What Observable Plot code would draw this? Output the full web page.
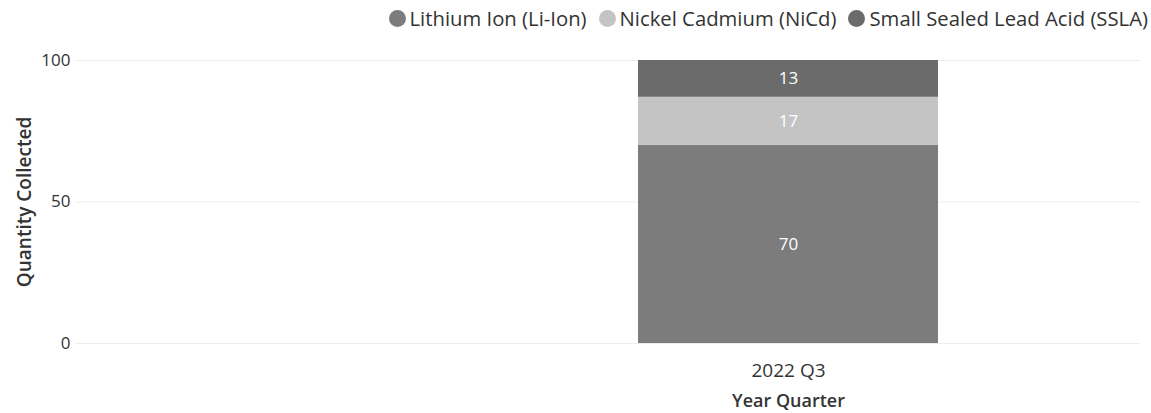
<!DOCTYPE html>
<html>
<head>
<meta charset="utf-8">
<script src="https://cdn.jsdelivr.net/npm/d3@7"></script>
<script src="https://cdn.jsdelivr.net/npm/@observablehq/plot@0.6"></script>
<style>
  html, body { margin: 0; padding: 0; background: #fff; }
  body { width: 1151px; height: 413px; overflow: hidden; font-family: "Open Sans", sans-serif; }
  #legend { height: 36px; display: flex; justify-content: flex-end; align-items: center; padding-right: 3px; box-sizing: border-box; font-size: 20.3px; color: #333; }
  .item { display: flex; align-items: center; margin-left: 12px; }
  .sw { width: 17px; height: 17px; border-radius: 50%; margin-right: 4px; }
</style>
</head>
<body>
<div id="legend"></div>
<div id="chart"></div>
<script>
const categories = ["2022 Q3"];
const series = ["Lithium Ion (Li-Ion)", "Nickel Cadmium (NiCd)", "Small Sealed Lead Acid (SSLA)"];
const values = [70, 17, 13];
const yTicks = [0, 50, 100];
const yTitle = "Quantity Collected";
const xTitle = "Year Quarter";
const palette = ["#7c7c7c", "#c4c4c4", "#6b6b6b"];

const data = series.map((s, i) => ({quarter: categories[0], series: s, value: values[i]}));

const legend = document.getElementById("legend");
series.forEach((s, i) => {
  const it = document.createElement("div");
  it.className = "item";
  it.innerHTML = `<span class="sw" style="background:${palette[i]}"></span><span>${s}</span>`;
  legend.appendChild(it);
});

const chart = Plot.plot({
  width: 1151,
  height: 377,
  marginLeft: 75,
  marginRight: 11,
  marginTop: 24,
  marginBottom: 70,
  style: {fontFamily: "Open Sans, sans-serif", fontSize: "16px", color: "#333", background: "#fff"},
  x: {type: "band", domain: categories, paddingInner: 0, paddingOuter: 1.275, align: 0.736},
  y: {domain: [0, 100]},
  color: {domain: series, range: palette},
  marks: [
    Plot.gridY(yTicks, {stroke: "#ececec", strokeOpacity: 1}),
    Plot.barY(data, {x: "quarter", y: "value", fill: "series", order: series}),
    Plot.text(data, Plot.stackY({x: "quarter", y: "value", z: "series", order: series, text: d => String(d.value), fill: "white", fontSize: 17})),
    Plot.axisY({ticks: yTicks, tickSize: 0, tickPadding: 5, label: yTitle, labelAnchor: "center", labelOffset: 58, labelArrow: "none", fontSize: 17}),
    Plot.axisX({tickSize: 0, tickPadding: 20, label: null, fontSize: 19}),
    Plot.text([xTitle], {x: () => categories[0], frameAnchor: "bottom", dy: 63, text: d => d, fontSize: 18, fontWeight: 600, fill: "#333"})
  ]
});
chart.querySelectorAll("g[aria-label='y-axis label']").forEach(el => { el.setAttribute("font-size", 19); el.setAttribute("font-weight", 600); });
document.getElementById("chart").appendChild(chart);
</script>
</body>
</html>
